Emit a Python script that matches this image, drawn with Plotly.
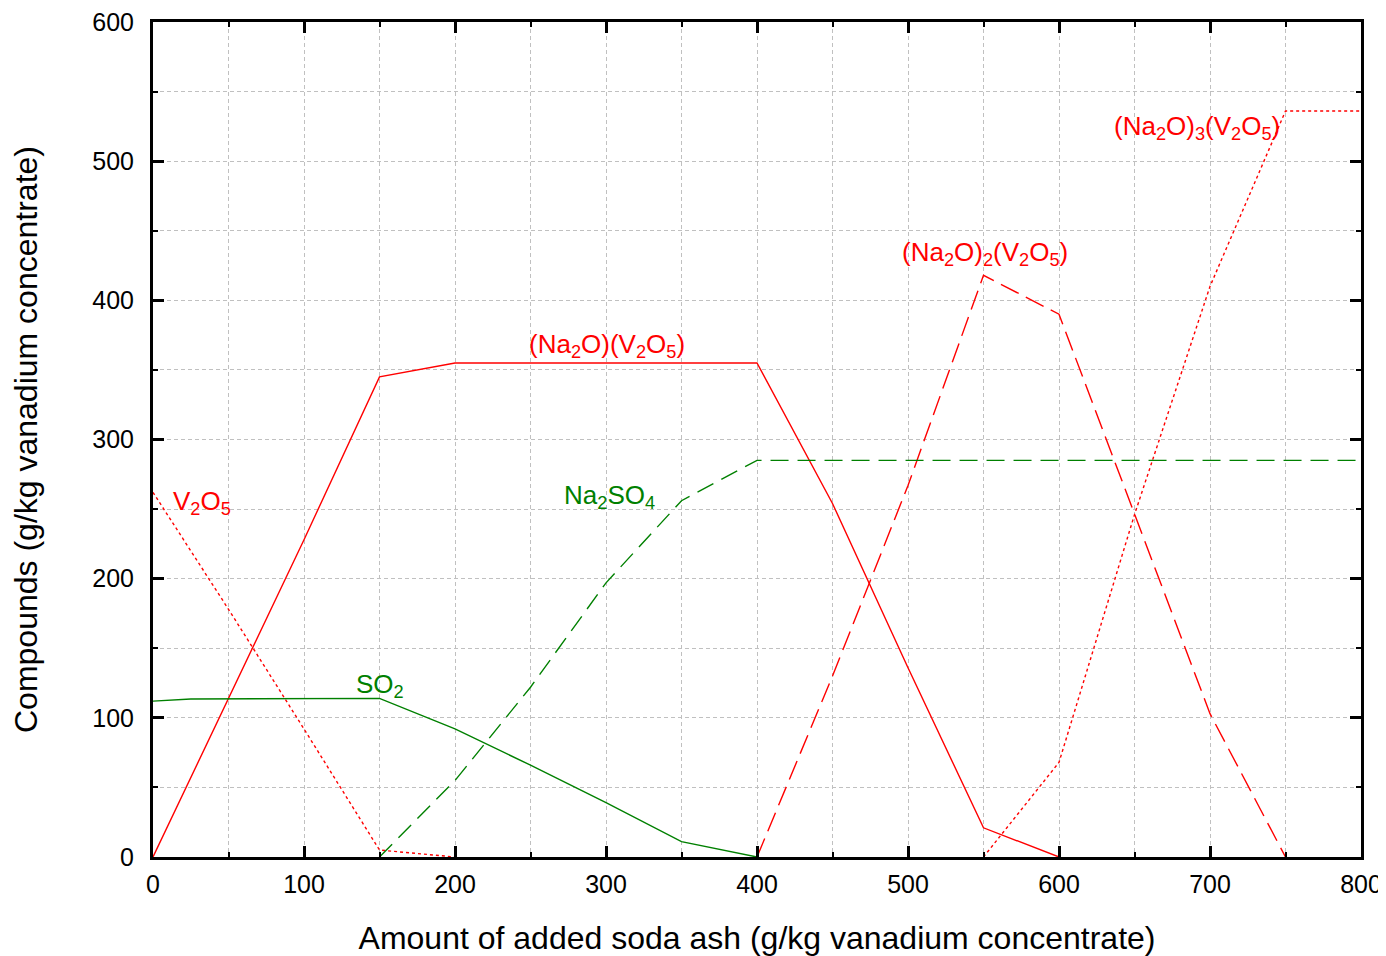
import plotly.graph_objects as go

# ---- data ----
x_v2o5 = [0, 50, 100, 150, 200]
y_v2o5 = [262, 178, 92, 5, 0]

x_nav = [0, 50, 100, 150, 200, 250, 300, 350, 400, 450, 500, 550, 600]
y_nav = [0, 114, 228, 345, 355, 355, 355, 355, 355, 254, 136, 21, 0]

x_na2v = [400, 450, 500, 550, 600, 650, 700, 750]
y_na2v = [0, 130, 267, 418, 390, 246, 103, 0]

x_na3v = [550, 600, 650, 700, 750, 800]
y_na3v = [0, 68, 246, 410, 536, 536]

x_na2so4 = [150, 200, 250, 300, 350, 400, 800]
y_na2so4 = [0, 55, 122, 197, 256, 285, 285]

x_so2 = [0, 25, 150, 200, 250, 300, 350, 400]
y_so2 = [112, 113.5, 114, 92, 66, 39, 11, 0]

labels = ["V<sub>2</sub>O<sub>5</sub>", "SO<sub>2</sub>", "Na<sub>2</sub>SO<sub>4</sub>",
          "(Na<sub>2</sub>O)(V<sub>2</sub>O<sub>5</sub>)",
          "(Na<sub>2</sub>O)<sub>2</sub>(V<sub>2</sub>O<sub>5</sub>)",
          "(Na<sub>2</sub>O)<sub>3</sub>(V<sub>2</sub>O<sub>5</sub>)"]
label_x = [12, 133, 271, 248, 495, 635]
label_y = [255, 123, 259, 367.5, 433.5, 524]
label_col = ["red", "green", "green", "red", "red", "red"]

RED = "#ff0000"
GREEN = "#008000"

fig = go.Figure()
series = [
    (x_v2o5, y_v2o5, RED, "3px,3px"),
    (x_nav, y_nav, RED, "solid"),
    (x_na2v, y_na2v, RED, "20px,8px"),
    (x_na3v, y_na3v, RED, "3px,3px"),
    (x_na2so4, y_na2so4, GREEN, "18px,9px"),
    (x_so2, y_so2, GREEN, "solid"),
]
for xs, ys, c, d in series:
    fig.add_trace(go.Scatter(x=xs, y=ys, mode="lines",
                             line=dict(color=c, width=1.4, dash=d),
                             showlegend=False, hoverinfo="skip"))

for t, x, y, c in zip(labels, label_x, label_y, label_col):
    fig.add_annotation(x=x, y=y, xref="x", yref="y", text=t, showarrow=False,
                       xanchor="left", yanchor="middle",
                       font=dict(family="Liberation Sans, Arial", size=26,
                                 color=RED if c == "red" else GREEN))

grid = dict(showgrid=True, gridcolor="#c0c0c0", gridwidth=1, griddash="4px,3px")
axis_common = dict(showline=True, linecolor="black", linewidth=3, mirror="ticks",
                   ticks="inside", ticklen=11, tickwidth=3, tickcolor="black",
                   zeroline=False, ticklabeloverflow="allow",
                   tickfont=dict(family="Liberation Sans, Arial", size=25, color="black"),
                   **grid)

fig.update_xaxes(range=[0, 800], tick0=0, dtick=100,
                 minor=dict(dtick=50, ticklen=5, tickwidth=2, tickcolor="black",
                            ticks="inside", showgrid=True, gridcolor="#c0c0c0",
                            griddash="4px,3px"),
                 title=dict(text="Amount of added soda ash (g/kg vanadium concentrate)",
                            font=dict(family="Liberation Sans, Arial", size=32, color="black"),
                            standoff=32),
                 ticklabelstandoff=3,
                 **axis_common)
fig.update_yaxes(range=[0, 600], tick0=0, dtick=100,
                 minor=dict(dtick=50, ticklen=5, tickwidth=2, tickcolor="black",
                            ticks="inside", showgrid=True, gridcolor="#c0c0c0",
                            griddash="4px,3px"),
                 title=dict(text="Compounds (g/kg vanadium concentrate)",
                            font=dict(family="Liberation Sans, Arial", size=32, color="black"),
                            standoff=46),
                 ticklabelstandoff=11,
                 **axis_common)

fig.update_layout(width=1378, height=948,
                  margin=dict(l=145, r=25, t=14, b=99, autoexpand=False),
                  plot_bgcolor="white", paper_bgcolor="white")

fig.write_html("out.html")
